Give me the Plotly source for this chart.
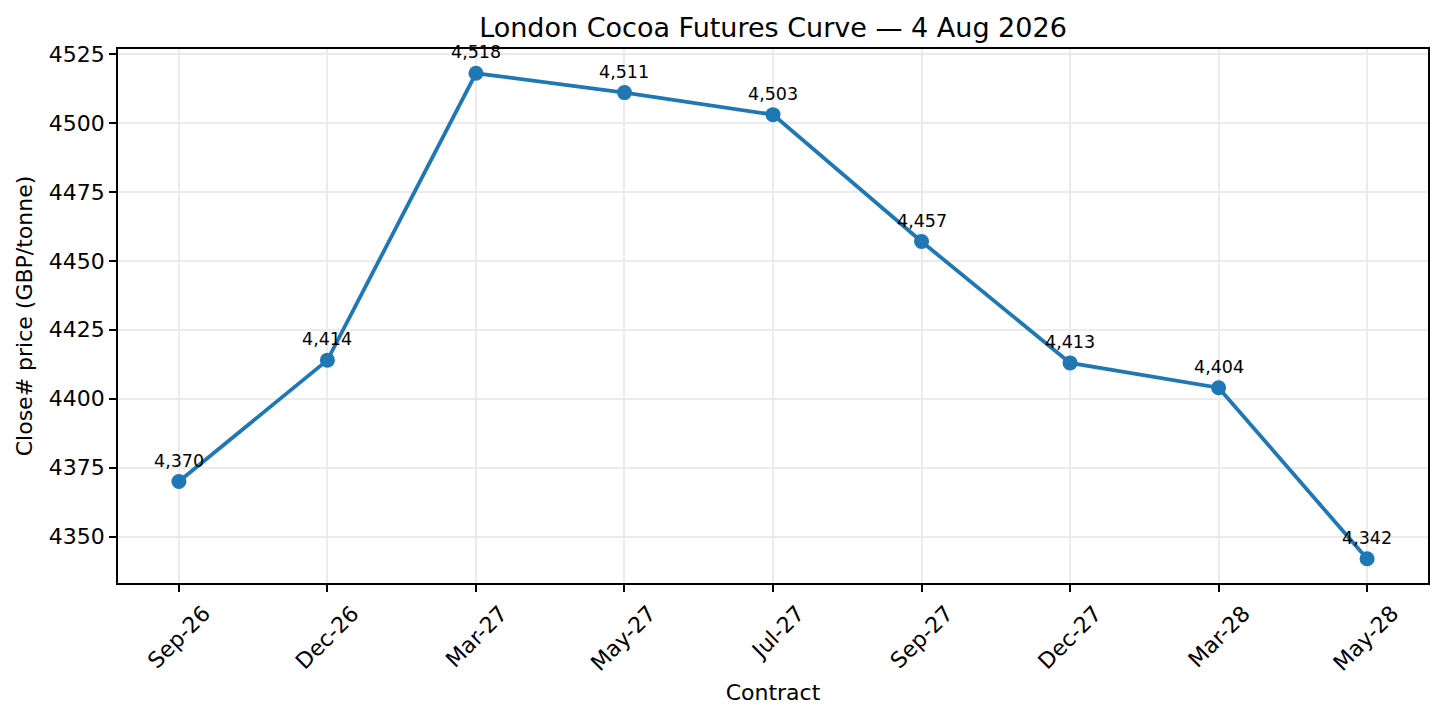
import plotly.graph_objects as go

# Futures curve data
contracts = ['Sep-26', 'Dec-26', 'Mar-27', 'May-27', 'Jul-27',
             'Sep-27', 'Dec-27', 'Mar-28', 'May-28']
close_prices = [4370, 4414, 4518, 4511, 4503, 4457, 4413, 4404, 4342]
y_ticks = [4350, 4375, 4400, 4425, 4450, 4475, 4500, 4525]

BLUE = '#1f77b4'
FONT = 'DejaVu Sans'

fig = go.Figure()

fig.add_trace(go.Scatter(
    x=list(range(len(contracts))), y=close_prices,
    mode='lines+markers',
    line=dict(color=BLUE, width=3.8),
    marker=dict(color=BLUE, size=15),
    showlegend=False,
))

# value labels above each point
for i, v in enumerate(close_prices):
    fig.add_annotation(x=i, y=v, text=f'{v:,}', showarrow=False,
                       yanchor='bottom', yshift=9,
                       font=dict(family=FONT, size=17.5, color='black'))

fig.update_xaxes(
    tickmode='array', tickvals=list(range(len(contracts))), ticktext=contracts,
    range=[-0.41, 8.41], tickangle=-45, ticklabelshift=25,
    showline=True, mirror=True, linecolor='black', linewidth=1.6,
    ticks='outside', ticklen=7, tickwidth=1.6, tickcolor='black',
    showgrid=True, gridcolor='#ebebeb', gridwidth=1.6, zeroline=False,
    tickfont=dict(family=FONT, size=22, color='black'),
    title=dict(text='Contract', standoff=10,
               font=dict(family=FONT, size=22, color='black')),
)
fig.update_yaxes(
    tickmode='array', tickvals=y_ticks,
    range=[4333.2, 4526.8],
    showline=True, mirror=True, linecolor='black', linewidth=1.6,
    ticks='outside', ticklen=7, tickwidth=1.6, tickcolor='black',
    showgrid=True, gridcolor='#ebebeb', gridwidth=1.6, zeroline=False,
    tickfont=dict(family=FONT, size=22, color='black'),
    title=dict(text='Close# price (GBP/tonne)', standoff=10,
               font=dict(family=FONT, size=22, color='black')),
)

# page body adds ~8px offset, margins compensate
fig.update_layout(
    width=1444, height=725,
    margin=dict(l=110, r=24, t=41, b=150),
    title=dict(text='London Cocoa Futures Curve — 4 Aug 2026',
               x=0.5, xref='paper', y=1 - 20 / 725, yref='container',
               xanchor='center', yanchor='middle',
               font=dict(family=FONT, size=27, color='black')),
    plot_bgcolor='white', paper_bgcolor='white',
)

fig.write_html('out.html')
